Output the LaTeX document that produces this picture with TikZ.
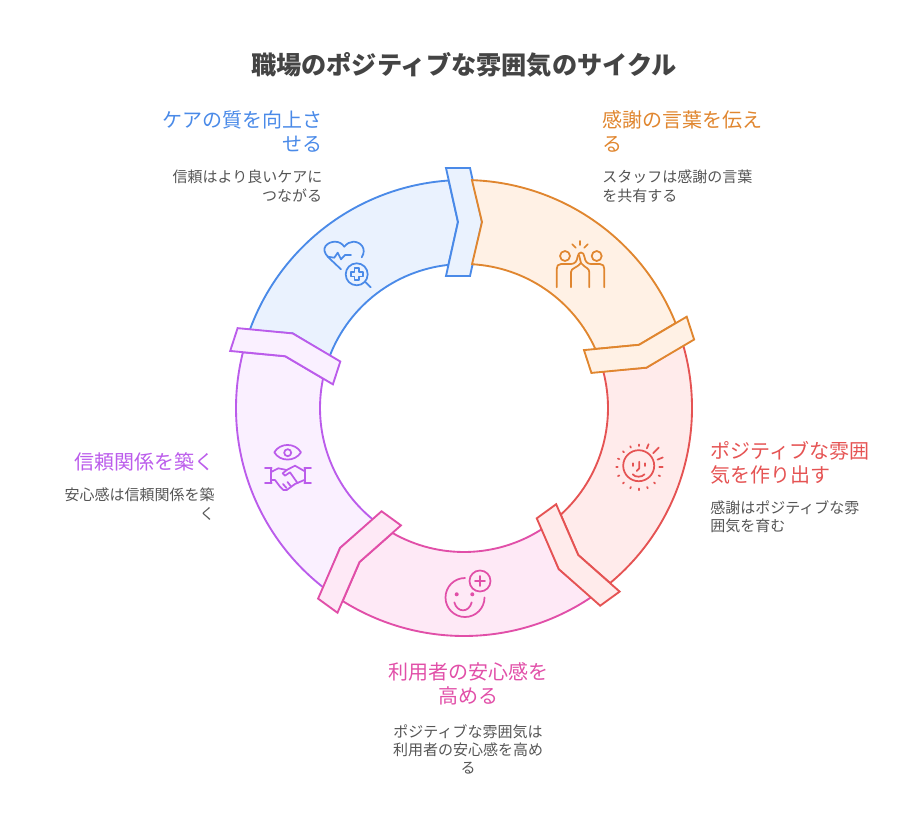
\documentclass[tikz,border=0pt]{standalone}
\usepackage{fontspec}
\usepackage{tikz}
\usetikzlibrary{positioning}
\setmainfont{Noto Sans CJK JP}
\definecolor{orangeline}{HTML}{E0862F}
\definecolor{orangefill}{HTML}{FFF1E5}
\definecolor{redline}{HTML}{E55353}
\definecolor{redfill}{HTML}{FFEBEB}
\definecolor{pinkline}{HTML}{E14FA8}
\definecolor{pinkfill}{HTML}{FEE9F6}
\definecolor{purpleline}{HTML}{BB5CEB}
\definecolor{purplefill}{HTML}{FAF0FF}
\definecolor{blueline}{HTML}{4A8AE8}
\definecolor{bluefill}{HTML}{EAF2FE}
\definecolor{titlegray}{HTML}{444444}
\definecolor{bodygray}{HTML}{555555}
\tikzset{
  ringpart/.style={line width=1.4pt},
  iconline/.style={line width=1.3pt, line cap=round, line join=round},
  titletxt/.style={inner sep=0, text=titlegray, font=\fontsize{18.9}{24}\selectfont\bfseries},
  headtxt/.style={inner sep=0, font=\fontsize{15}{18}\selectfont},
  bodytxt/.style={inner sep=0, text=bodygray, font=\fontsize{11.25}{13.7}\selectfont}
}
\newcommand{\ringseg}[3]{%
\begin{scope}[shift={(464,408)},rotate=#3]
\draw[ringpart,draw=#1,fill=#2] (-88:228) arc[start angle=-88,end angle=-21.85,radius=228] -- (-19.85:186.1) -- (-24.2:144) arc[start angle=-24.2,end angle=-86.8,radius=144] -- (18,-186) -- cycle;
\draw[ringpart,draw=#1,fill=#2,rotate=-72] (-18,-240) -- (6,-240) -- (18,-186) -- (6,-132) -- (-18,-132) -- (-6,-186) -- cycle;
\end{scope}}
\begin{document}
\begin{tikzpicture}[x=0.75pt,y=-0.75pt]
\useasboundingbox (0,0) rectangle (924,828);
\ringseg{blueline}{bluefill}{-288}
\ringseg{purpleline}{purplefill}{-216}
\ringseg{pinkline}{pinkfill}{-144}
\ringseg{redline}{redfill}{-72}
\ringseg{orangeline}{orangefill}{0}

\node[titletxt] (title) at (464,65) {職場のポジティブな雰囲気のサイクル};

\node[headtxt, text=orangeline, anchor=north west, align=left] (orangehead) at (602,110) {感謝の言葉を伝え\\る};
\node[bodytxt, align=left, below=13.25pt of orangehead.south west, anchor=north west] (orangebody) {スタッフは感謝の言葉\\を共有する};
\node[headtxt, text=blueline, anchor=north east, align=right] (bluehead) at (322.5,110) {ケアの質を向上さ\\せる};
\node[bodytxt, align=right, below=13.25pt of bluehead.south east, anchor=north east] (bluebody) {信頼はより良いケアに\\つながる};
\node[headtxt, text=redline, anchor=north west, align=left] (redhead) at (710,441) {ポジティブな雰囲\\気を作り出す};
\node[bodytxt, align=left, below=11.75pt of redhead.south west, anchor=north west] (redbody) {感謝はポジティブな雰\\囲気を育む};
\node[headtxt, text=pinkline, anchor=north, align=center] (pinkhead) at (468,662) {利用者の安心感を\\高める};
\node[bodytxt, align=center, below=14.25pt of pinkhead.south, anchor=north] (pinkbody) {ポジティブな雰囲気は\\利用者の安心感を高め\\る};
\node[headtxt, text=purpleline, anchor=north east, align=right] (purplehead) at (215,452) {信頼関係を築く};
\node[bodytxt, align=right, below=12.5pt of purplehead.south east, anchor=north east] (purplebody) {安心感は信頼関係を築\\く};

\draw[iconline,orangeline] (565,256) circle (5);
\draw[iconline,orangeline] (596.7,256) circle (5);
\draw[iconline,orangeline] (580,241) -- (580,245);
\draw[iconline,orangeline] (572.3,244.3) -- (575.7,247.7);
\draw[iconline,orangeline] (587.7,244.3) -- (584.3,247.7);
\draw[iconline,orangeline] (556.7,287.3) -- (556.7,269) .. controls (556.7,266) and (558,264) .. (561,264) -- (571,264) .. controls (575,264) and (577,261) .. (577.5,257) .. controls (578,251) and (584,251) .. (584.5,257) .. controls (585,261) and (587,264) .. (591,264) -- (600,264) .. controls (603,264) and (604.3,266) .. (604.3,269) -- (604.3,287.3);
\draw[iconline,orangeline] (571,287.3) -- (571,272) .. controls (571,268) and (577,268) .. (581,263) .. controls (585,268) and (589.3,268) .. (589.3,272) -- (589.3,287.3);
\draw[iconline,orangeline] (579,255) -- (581,263);

\draw[iconline,blueline] (341,269.3) -- (328.5,257.5) .. controls (319,248) and (328,241.7) .. (335,241.7) .. controls (339,241.7) and (342,243.5) .. (344.3,246.7) .. controls (347,243.5) and (350,241.7) .. (353.3,241.7) .. controls (361,241.7) and (367,249) .. (361.7,257.3);
\draw[iconline,blueline] (327.7,256.7) -- (334.3,257.7) -- (337.7,252.7) -- (341,259.3) -- (345,255) -- (351,255);
\draw[iconline,blueline] (356.7,274.3) circle (11);
\draw[iconline,blueline] (354.4,268.3) -- (359,268.3) -- (359,272) -- (362.7,272) -- (362.7,276.6) -- (359,276.6) -- (359,280.3) -- (354.4,280.3) -- (354.4,276.6) -- (350.7,276.6) -- (350.7,272) -- (354.4,272) -- cycle;
\draw[iconline,blueline] (365.7,282.3) -- (370.7,287.3);

\draw[iconline,purpleline] (274.3,452.3) .. controls (280,442.5) and (295,442.5) .. (301,452.3) .. controls (295,462) and (280,462) .. (274.3,452.3) -- cycle;
\draw[iconline,purpleline] (287.7,452.7) circle (3.5);
\draw[iconline,purpleline] (265,467.7) -- (271.7,467.7);
\draw[iconline,purpleline] (265,483.3) -- (271.7,483.3);
\draw[iconline,purpleline] (270.7,467.7) -- (270.7,483.3);
\draw[iconline,purpleline] (304.3,467.7) -- (311,467.7);
\draw[iconline,purpleline] (304.3,483.3) -- (311,483.3);
\draw[iconline,purpleline] (305,467.7) -- (305,483.3);
\draw[iconline,purpleline] (271.7,471.7) -- (278.3,468.3) -- (286.7,470) -- (295,465.7) -- (304.3,471);
\draw[iconline,purpleline] (270.7,480) -- (275,480) -- (280,486.7) -- (283.3,490) -- (286.7,490) -- (295,484) -- (304.3,480);
\draw[iconline,purpleline] (286.7,470) -- (282.7,473.3) -- (285,475.7) -- (290,472.3) -- (297.7,483.3);
\draw[iconline,purpleline] (283,484) -- (286.5,488);
\draw[iconline,purpleline] (287.5,482) -- (291,486.5);

\draw[iconline,pinkline] (465,578) arc[start angle=270,end angle=0,radius=19.5];
\fill[pinkline] (456.7,594.3) circle (2);
\fill[pinkline] (472.3,594.3) circle (2);
\draw[iconline,pinkline] (454.3,602.3) .. controls (457,613) and (469,613) .. (471.7,602.3);
\draw[iconline,pinkline] (480,581) circle (10.5);
\draw[iconline,pinkline] (475,581) -- (485,581);
\draw[iconline,pinkline] (480,576) -- (480,586);

\draw[iconline,redline] (638.7,465.7) circle (15.5);
\draw[iconline,redline] (632.7,463.3) -- (632.7,466);
\draw[iconline,redline] (645,463.3) -- (645,466);
\draw[iconline,redline] (639.3,461.7) -- (639.3,468.3) -- (636.7,471);
\draw[iconline,redline] (632.7,474.3) .. controls (635,477.5) and (642,477.5) .. (644.5,474.3);
\foreach \a in {22.5,45,...,270} \draw[iconline,redline] ([shift={(\a:21.3)}] 639,467.3) -- ([shift={(\a:22.8)}] 639,467.3);
\draw[iconline,redline] ([shift={(-67.5:20.5)}] 639,467.3) -- ([shift={(-67.5:25)}] 639,467.3);
\draw[iconline,redline] ([shift={(-45:20)}] 639,467.3) -- ([shift={(-45:28)}] 639,467.3);
\draw[iconline,redline] ([shift={(-22.5:20)}] 639,467.3) -- ([shift={(-22.5:25.7)}] 639,467.3);
\draw[iconline,redline] ([shift={(0:20.3)}] 639,467.3) -- ([shift={(0:23.7)}] 639,467.3);
\end{tikzpicture}
\end{document}
